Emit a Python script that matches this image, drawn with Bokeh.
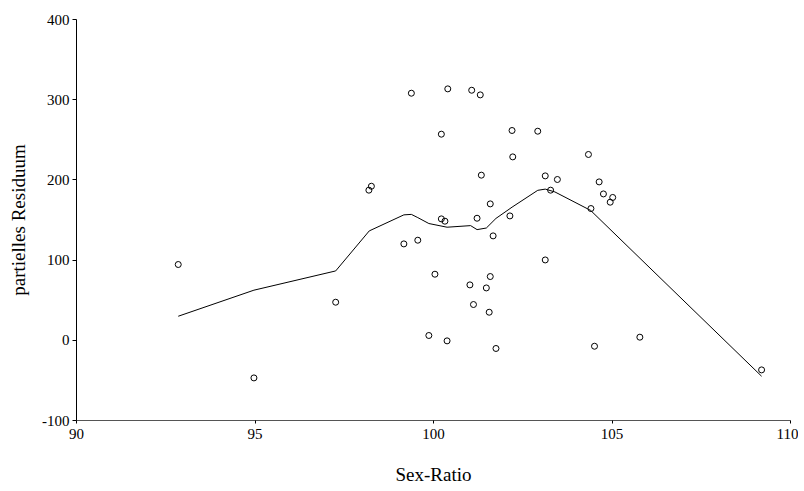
from bokeh.plotting import figure
from bokeh.models import Range1d, FixedTicker, ColumnDataSource
from bokeh.embed import file_html
from bokeh.resources import INLINE

# Observed partial residuals
sex_ratio = [92.85, 94.97, 97.26, 98.19, 98.26, 99.17, 99.56, 99.38, 100.40, 101.07,
             101.31, 100.22, 102.20, 102.92, 102.22, 104.34, 101.34, 103.13, 103.47, 104.64,
             103.28, 104.76, 105.02, 104.95, 101.59, 104.41, 100.22, 100.32, 101.22, 102.14,
             101.67, 103.13, 100.04, 101.59, 101.02, 101.48, 101.12, 101.56, 99.87, 100.38,
             101.75, 104.51, 105.78, 109.19]
residual = [94.5, -46.9, 47.5, 187.2, 192.1, 120.2, 124.8, 308.1, 313.5, 311.8,
            306.0, 257.0, 261.6, 260.7, 228.7, 231.7, 205.9, 205.0, 200.5, 197.5,
            187.2, 182.5, 178.1, 172.2, 170.1, 164.3, 151.4, 148.5, 152.2, 155.1,
            130.2, 100.2, 82.4, 79.5, 69.1, 65.3, 44.6, 35.0, 6.0, -0.7,
            -10.2, -7.4, 3.9, -36.9]

# Smoothed fit
fit_x = [92.85, 94.97, 97.26, 98.20, 99.17, 99.38, 99.56, 99.87, 100.38, 101.04,
         101.22, 101.48, 101.75, 102.20, 102.92, 103.13, 103.40, 104.40, 109.19]
fit_y = [30.0, 62.5, 86.5, 136.4, 156.4, 157.0, 153.0, 145.6, 141.0, 143.0,
         138.0, 140.0, 152.0, 166.0, 187.0, 188.5, 185.0, 162.0, -44.8]

x_ticks = [90, 95, 100, 105, 110]
y_ticks = [-100, 0, 100, 200, 300, 400]
y_tick_labels = ["-100", "0", "100", "200", "300", "400"]

FONT = "Liberation Serif"

p = figure(width=798, height=490, x_range=Range1d(90, 110), y_range=Range1d(-100, 400),
           output_backend="svg", toolbar_location=None,
           min_border_left=76, min_border_right=8, min_border_top=19, min_border_bottom=70)
p.outline_line_color = None
p.xgrid.visible = False
p.ygrid.visible = False
p.background_fill_color = "white"
p.border_fill_color = "white"

p.line(fit_x, fit_y, line_color="black", line_width=1)
src = ColumnDataSource(dict(x=sex_ratio, y=residual))
p.scatter("x", "y", source=src, marker="circle", size=6, fill_color=None,
          line_color="black", line_width=1)

p.xaxis.ticker = FixedTicker(ticks=x_ticks)
p.yaxis.ticker = FixedTicker(ticks=y_ticks)
p.yaxis.major_label_overrides = {t: s for t, s in zip(y_ticks, y_tick_labels)}
p.xaxis.axis_label = "Sex-Ratio"
p.yaxis.axis_label = "partielles Residuum"
for ax in (p.xaxis, p.yaxis):
    ax.minor_tick_line_color = None
    ax.major_label_text_font = FONT
    ax.major_label_text_font_size = "15px"
    ax.major_label_text_color = "black"
    ax.axis_label_text_font = FONT
    ax.axis_label_text_font_size = "19px"
    ax.axis_label_text_font_style = "normal"
    ax.axis_label_text_color = "black"
    ax.major_tick_line_color = "black"
    ax.major_tick_in = 0
p.yaxis.axis_line_color = "black"
p.xaxis.axis_line_color = "#555555"
p.yaxis.major_tick_out = 4
p.xaxis.major_tick_out = 3
p.yaxis.major_label_standoff = 3
p.xaxis.major_label_standoff = 5
p.yaxis.axis_label_standoff = 10
p.xaxis.axis_label_standoff = 22

open("out.html", "w").write(file_html(p, INLINE))
